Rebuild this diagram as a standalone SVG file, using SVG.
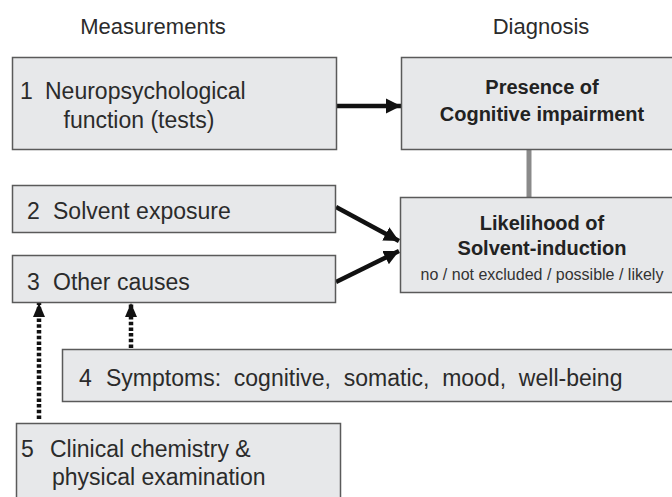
<svg xmlns="http://www.w3.org/2000/svg" width="672" height="497" viewBox="0 0 672 497">
<defs>
<marker id="ah" markerUnits="userSpaceOnUse" markerWidth="16" markerHeight="18" refX="15" refY="9" orient="auto">
<path d="M0,1.5 L15,9 L0,16.5 Z" fill="#111"/>
</marker>
<marker id="ahs" markerUnits="userSpaceOnUse" markerWidth="15" markerHeight="14" refX="14" refY="7" orient="auto">
<path d="M0,1 L14,7 L0,13 Z" fill="#111"/>
</marker>
</defs>
<style>
.box{fill:#e7e8ea;stroke:#5a5a5a;stroke-width:1.5}
.t{font-family:"Liberation Sans",Arial,sans-serif;font-size:23px;fill:#2b2b2b}
.h{font-family:"Liberation Sans",Arial,sans-serif;font-size:22px;fill:#2b2b2b;text-anchor:middle}
.b{font-family:"Liberation Sans",Arial,sans-serif;font-size:20px;font-weight:bold;fill:#222;text-anchor:middle}
.s{font-family:"Liberation Sans",Arial,sans-serif;font-size:16px;fill:#333;text-anchor:middle}
.arr{stroke:#111;stroke-width:4.5;fill:none}
.dot{stroke:#111;stroke-width:4.5;fill:none;stroke-dasharray:3.5 2.2}
</style>
<rect width="672" height="497" fill="#fff"/>
<text class="h" x="153" y="34">Measurements</text>
<text class="h" x="541" y="34">Diagnosis</text>
<g id="connectors">
<line x1="529" y1="149" x2="529" y2="197" stroke="#8a8a8a" stroke-width="5"/>
<line class="arr" x1="337" y1="106" x2="401" y2="106" marker-end="url(#ah)"/>
<line class="arr" x1="336" y1="207" x2="399" y2="241" marker-end="url(#ah)"/>
<line class="arr" x1="336" y1="282" x2="399" y2="251" marker-end="url(#ah)"/>
<line class="dot" x1="39" y1="419" x2="39" y2="303" marker-end="url(#ahs)"/>
<line class="dot" x1="131" y1="348" x2="131" y2="303" marker-end="url(#ahs)"/>
</g>
<g id="n1">
<rect class="box" x="12.5" y="57.5" width="324" height="92"/>
<text class="t" y="99"><tspan x="20">1</tspan><tspan x="45">Neuropsychological</tspan></text>
<text class="t" x="63.5" y="128">function (tests)</text>
</g>
<g id="presence">
<rect class="box" x="401.5" y="57.5" width="285" height="92"/>
<text class="b" x="542" y="94">Presence of</text>
<text class="b" x="542" y="121">Cognitive impairment</text>
</g>
<g id="n2">
<rect class="box" x="12.5" y="185.5" width="323" height="47"/>
<text class="t" y="219"><tspan x="27">2</tspan><tspan x="53">Solvent exposure</tspan></text>
</g>
<g id="likelihood">
<rect class="box" x="400.5" y="197.5" width="286" height="95"/>
<text class="b" x="542" y="230">Likelihood of</text>
<text class="b" x="542" y="255">Solvent-induction</text>
<text class="s" x="542" y="280">no / not excluded / possible / likely</text>
</g>
<g id="n3">
<rect class="box" x="12.5" y="255.5" width="323" height="47"/>
<text class="t" y="290"><tspan x="27">3</tspan><tspan x="53">Other causes</tspan></text>
</g>
<g id="n4">
<rect class="box" x="62.5" y="349.5" width="624" height="52"/>
<text class="t" y="386" xml:space="preserve"><tspan x="79">4</tspan><tspan x="106">Symptoms:  cognitive,  somatic,  mood,  well-being</tspan></text>
</g>
<g id="n5">
<rect class="box" x="16.5" y="423.5" width="324" height="80"/>
<text class="t" y="457"><tspan x="21">5</tspan><tspan x="50">Clinical chemistry &amp;</tspan></text>
<text class="t" x="52" y="485">physical examination</text>
</g>
</svg>
